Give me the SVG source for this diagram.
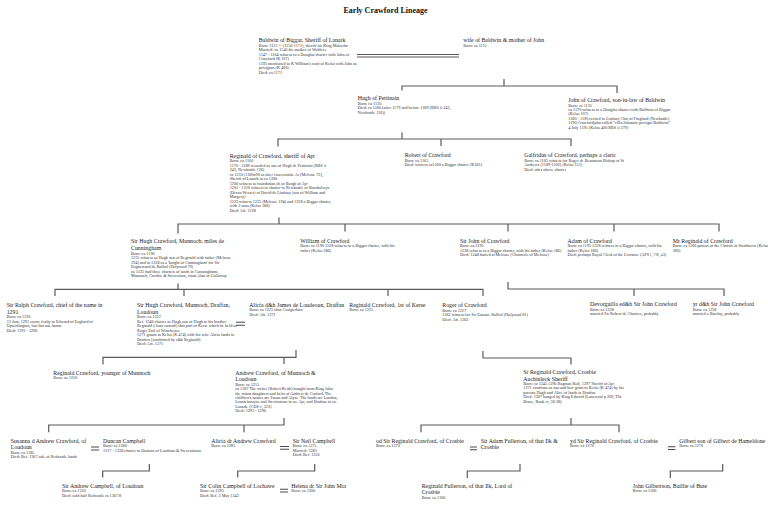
<svg xmlns="http://www.w3.org/2000/svg" width="768" height="516" viewBox="0 0 768 516">
<style>
text{font-family:"Liberation Serif","Times New Roman",serif}
.h{font-size:8px;font-weight:bold;fill:#111;text-anchor:middle}
.t{font-size:5.85px;fill:#1a1a1a}
.d{font-size:4.2px;fill:#333}
.c path{stroke:#5a5a5a;stroke-width:1.2;fill:none}
.eq path{stroke:#4a4a4a;stroke-width:1.1;fill:none}
</style>
<rect width="768" height="516" fill="#fff"/>
<text class="h" x="385.5" y="13">Early Crawford Lineage</text>

<g id="connectors" class="c">
<path d="M357 54.5H459M357 57H459"/>
<path d="M504 79V86M402 90.5V86H617V93"/>
<path d="M402 132.5V139M278 146.5V139H571V146M441 139V146"/>
<path d="M279 217.5V224M178 233.5V224H719V231.5M345 224V231.5M508 224V231.5M614 224V231.5"/>
<path d="M178 283.5V289.3M55 296V289.3H483V296M184 289.3V296M388 289.3V296"/>
<path d="M508 282V289H724V296M634 289V296"/>
<path d="M296 350V357.3H103V364.5M284 357.3V364"/>
<path d="M483 351V358H571V364.5"/>
<path d="M284 418V425H48.7V432.3M244 425V432.3"/>
<path d="M571 418V425M421 432.3V425H619V432.3"/>
<path d="M149.3 464V471H102.7V477.5"/>
<path d="M314.7 464V471H237.7V477.5"/>
<path d="M520 464V471H467.3V478"/>
<path d="M722.7 464V471H670.3V478"/>
</g>
<g id="marriages" class="eq">
<path d="M236 322.3H245M236 325.3H245"/>
<path d="M91 447H99M91 450H99"/>
<path d="M280 446.5H289M280 449.3H289"/>
<path d="M280 489.3H288M280 492H288"/>
<path d="M470 447H477M470 449.8H477"/>
<path d="M668 446.7H675.5M668 449.5H675.5"/>
</g>

<g id="baldwin">
<text class="t" x="258.7" y="42">Baldwin of Biggar, Sheriff of Lanark</text>
<text class="d" y="46.5"><tspan x="258.7">Born: 1125 © (1150-1171), sheriff for King Malcolm</tspan><tspan x="258.7" dy="4.5">Married: ca 1140 the mother of Waldeve</tspan><tspan x="258.7" dy="4.5">1147 - 1164 witness to a Douglas charter with John of</tspan><tspan x="258.7" dy="4.5">Crawford (K 107)</tspan><tspan x="258.7" dy="4.5">1193 mentioned in K William's conf of Kelso with John as</tspan><tspan x="258.7" dy="4.5">privignus (K 400)</tspan><tspan x="258.7" dy="4.5">Died: ca 1171</tspan></text>
</g>
<g id="wife-baldwin">
<text class="t" x="463.3" y="42">wife of Baldwin &amp; mother of John</text>
<text class="d" x="463.3" y="46.5">Born: ca 1115</text>
</g>
<g id="hugh-pettinain">
<text class="t" x="357.7" y="100">Hugh of Pettinain</text>
<text class="d" y="104.8"><tspan x="357.7">Born: ca 1130</tspan><tspan x="357.7" dy="4.4">Died: ca 1180 (after 1179 and before 1189 (RRS ii 243,</tspan><tspan x="357.7" dy="4.4">Newbottle 126))</tspan></text>
</g>
<g id="john-crawford">
<text class="t" x="568.3" y="102">John of Crawford, son-in-law of Baldwin</text>
<text class="d" y="106.5"><tspan x="568.3">Born: ca 1135</tspan><tspan x="568.3" dy="4.4">ca 1170 witness to a Douglas charter with Baldwin of Biggar</tspan><tspan x="568.3" dy="4.4">(Kelso 107)</tspan><tspan x="568.3" dy="4.4">1180 - 1190 recited in Lindsay Chtr of Fingland (Newbattle)</tspan><tspan x="568.3" dy="4.4">1190 Crawfordjohn called "villa Johannis privigni Baldwini"</tspan><tspan x="568.3" dy="4.4">4 July 1195 (Kelso 400 RRS ii 379)</tspan></text>
</g>
<g id="reginald-ayr">
<text class="t" x="229.7" y="157.5">Reginald of Crawford, sheriff of Ayr</text>
<text class="d" y="162.3"><tspan x="229.7">Born: ca 1160</tspan><tspan x="229.7" dy="4.5">1170 - 1189 recorded as son of Hugh de Pettinain (RRS ii</tspan><tspan x="229.7" dy="4.5">243, Newbottle 126)</tspan><tspan x="229.7" dy="4.5">ca 1210 (1180x90 as later viscecomite Ar (Melrose 72),</tspan><tspan x="229.7" dy="4.5">Sheriff of Lanark in ca 1200</tspan><tspan x="229.7" dy="4.5">1200 witness to foundation ch of Burgh of Ayr</tspan><tspan x="229.7" dy="4.5">1201 - 1210 witness to charter to Newbottle of Brochalwyn</tspan><tspan x="229.7" dy="4.5">(Dixon Wester) of David de Lindsay (son of William and</tspan><tspan x="229.7" dy="4.5">Margery)</tspan><tspan x="229.7" dy="4.5">1223 witness 1225 (Melrose 194) and 1228 a Biggar charter,</tspan><tspan x="229.7" dy="4.5">with 3 sons (Kelso 186)</tspan><tspan x="229.7" dy="4.5">Died: Aft. 1228</tspan></text>
</g>
<g id="robert">
<text class="t" x="404.7" y="157">Robert of Crawford</text>
<text class="d" y="161.8"><tspan x="404.7">Born: ca 1165</tspan><tspan x="404.7" dy="4.5">Died: witness ca1200 a Biggar charter (K181)</tspan></text>
</g>
<g id="galfridus">
<text class="t" x="524.3" y="157">Galfridus of Crawford, perhaps a cleric</text>
<text class="d" y="161.8"><tspan x="524.3">Born: ca 1165 witness for Roger de Beaumont Bishop of St</tspan><tspan x="524.3" dy="4.5">Andrews (1189-1202) (Kelso 151)</tspan><tspan x="524.3" dy="4.5">Died: after above charter</tspan></text>
</g>

<g id="sir-hugh-1">
<text class="t" y="243"><tspan x="131">Sir Hugh Crawford, Munnoch, miles de</tspan><tspan x="131" dy="7">Cunningham</tspan></text>
<text class="d" y="254.5"><tspan x="131">Born: ca 1190</tspan><tspan x="131" dy="4.5">1225 witness as Hugh son of Reginald with father (Melrose</tspan><tspan x="131" dy="4.5">194) and in 1228 as a 'knight of Cunningham' for Sir</tspan><tspan x="131" dy="4.5">Enguerrand de Balliol (Holyrood 79)</tspan><tspan x="131" dy="4.5">ca 1225 had three charters of lands in Cunninghame,</tspan><tspan x="131" dy="4.5">Munnoch, Crosbie &amp; Stevenston, from Alan of Galloway</tspan></text>
</g>
<g id="william">
<text class="t" x="300.3" y="242.5">William of Crawford</text>
<text class="d" y="247.3"><tspan x="300.3">Born: ca 1190 1228 witness to a Biggar charter, with his</tspan><tspan x="300.3" dy="4.5">father (Kelso 186)</tspan></text>
</g>
<g id="sir-john">
<text class="t" x="460" y="242.5">Sir John of Crawford</text>
<text class="d" y="247.3"><tspan x="460">Born: ca 1195</tspan><tspan x="460" dy="4.5">1228 witness to a Biggar charter, with his father (Kelso 186)</tspan><tspan x="460" dy="4.5">Died: 1248 buried at Melrose (Chronicle of Melrose)</tspan></text>
</g>
<g id="adam">
<text class="t" x="567.5" y="242.5">Adam of Crawford</text>
<text class="d" y="247.3"><tspan x="567.5">Born: ca 1195 1228 witness to a Biggar charter, with his</tspan><tspan x="567.5" dy="4.5">father (Kelso 186)</tspan><tspan x="567.5" dy="4.5">Died: perhaps Royal Clerk of the Livrance (APS i, 7/8, a3)</tspan></text>
</g>
<g id="mr-reginald">
<text class="t" x="672.7" y="242.5">Mr Reginald of Crawford</text>
<text class="d" y="247.3"><tspan x="672.7">Born: ca 1200 parson of the Church of Strathaven (Kelso</tspan><tspan x="672.7" dy="4.5">280)</tspan></text>
</g>

<g id="sir-ralph">
<text class="t" y="306.5"><tspan x="6.7">Sir Ralph Crawford, chief of the name in</tspan><tspan x="6.7" dy="7">1291</tspan></text>
<text class="d" y="318"><tspan x="6.7">Born: ca 1220</tspan><tspan x="6.7" dy="4.5">13 June 1291 swore fealty to Edward of England at</tspan><tspan x="6.7" dy="4.5">Upsettlington, last but one baron</tspan><tspan x="6.7" dy="4.5">Died: 1291 - 1296</tspan></text>
</g>
<g id="sir-hugh-2">
<text class="t" y="306.5"><tspan x="137">Sir Hugh Crawford, Munnoch, Draffan,</tspan><tspan x="137" dy="7">Loudoun</tspan></text>
<text class="d" y="318"><tspan x="137">Born: ca 1222</tspan><tspan x="137" dy="4.5">Ref. 1246 charter as Hugh son of Hugh to his brother</tspan><tspan x="137" dy="4.5">Reginald (Auto custodi) that part of Kerse which he held or</tspan><tspan x="137" dy="4.5">Roger Earl of Winchester</tspan><tspan x="137" dy="4.5">1271 grants to Kelso (K 474) with his wife Alicia lands in</tspan><tspan x="137" dy="4.5">Draffen (confirmed by s&amp;h Reginald)</tspan><tspan x="137" dy="4.5">Died: Aft. 1271</tspan></text>
</g>
<g id="alicia-loudeoun">
<text class="t" x="249.3" y="306.5">Alicia d&amp;h James de Loudeoun, Draffan</text>
<text class="d" y="311.3"><tspan x="249.3">Born: ca 1225 alias Craigiedfan</tspan><tspan x="249.3" dy="4.5">Died: Aft. 1271</tspan></text>
</g>
<g id="reginald-kerse">
<text class="t" x="349.3" y="306.5">Reginald Crawford, 1st of Kerse</text>
<text class="d" x="349.3" y="311.3">Born: ca 1225</text>
</g>
<g id="roger">
<text class="t" x="442.3" y="306.8">Roger of Crawford</text>
<text class="d" y="311.6"><tspan x="442.3">Born: ca 1227</tspan><tspan x="442.3" dy="4.5">1262 witness for Sir Eustace Balliol (Holyrood 81)</tspan><tspan x="442.3" dy="4.5">Died: Aft. 1262</tspan></text>
</g>
<g id="devorguilla">
<text class="t" x="590" y="305.8">Devorguilla ed&amp;h Sir John Crawford</text>
<text class="d" y="310.6"><tspan x="590">Born: ca 1228</tspan><tspan x="590" dy="4.5">married Sir Robert de Chartres, probably</tspan></text>
</g>
<g id="yr-dh">
<text class="t" x="692.7" y="305.8">yr d&amp;h Sir John Crawford</text>
<text class="d" y="310.6"><tspan x="692.7">Born: ca 1228</tspan><tspan x="692.7" dy="4.5">married a Barclay, probably</tspan></text>
</g>

<g id="reginald-younger">
<text class="t" x="53.3" y="374.5">Reginald Crawford, younger of Munnoch</text>
<text class="d" x="53.3" y="379.3">Born: ca 1250</text>
</g>
<g id="andrew">
<text class="t" y="374.5"><tspan x="235.3">Andrew Crawford, of Munnoch &amp;</tspan><tspan x="235.3" dy="6.8">Loudoun</tspan></text>
<text class="d" y="385.8"><tspan x="235.3">Born: ca 1255</tspan><tspan x="235.3" dy="4.4">ca 1307 The writer (Robert Keith) bought from King John</tspan><tspan x="235.3" dy="4.4">the infant daughters and heirs of Andrew de Crafurd. The</tspan><tspan x="235.3" dy="4.4">children's names are Susan and Alyse. The lands are Loudon,</tspan><tspan x="235.3" dy="4.4">Lousteinruyne and Stevinstoun in co. Ayr, and Draffan in co.</tspan><tspan x="235.3" dy="4.4">Lanark. (CDS v, 323)</tspan><tspan x="235.3" dy="4.4">Died: 1292 - 1296</tspan></text>
</g>
<g id="sr-reginald-crosbie">
<text class="t" y="374"><tspan x="523.3">Sr Reginald Crawford, Crosbie</tspan><tspan x="523.3" dy="6.5">Auchinleck Sheriff</tspan></text>
<text class="d" y="385"><tspan x="523.3">Born: ca 1245  1296 Ragman Roll, 1297 Sheriff of Ayr</tspan><tspan x="523.3" dy="4.4">1271 confirms as son and heir grant to Kelso (K 474) by his</tspan><tspan x="523.3" dy="4.4">parents Hugh and Alice of lands in Draffan</tspan><tspan x="523.3" dy="4.4">Died: 1307 hanged by King Edward (Lanercost p 209, The</tspan><tspan x="523.3" dy="4.4">Bruce, Book iv, 36-38)</tspan></text>
</g>

<g id="susanna">
<text class="t" y="442.5"><tspan x="10.7">Susanna d Andrew Crawford, of</tspan><tspan x="10.7" dy="6.6">Loudoun</tspan></text>
<text class="d" y="453.8"><tspan x="10.7">Born: ca 1285</tspan><tspan x="10.7" dy="4.4">Died: Bef. 1367 sale of Redcastle lands</tspan></text>
</g>
<g id="duncan">
<text class="t" x="103" y="442.5">Duncan Campbell</text>
<text class="d" y="447.3"><tspan x="103">Born: ca 1280</tspan><tspan x="103" dy="4.4">1317 - 1338 charter to Duncan of Loudoun &amp; Stevenstoun</tspan></text>
</g>
<g id="alicia-dr">
<text class="t" x="211.3" y="442.5">Alicia dr Andrew Crawford</text>
<text class="d" x="211.3" y="447.3">Born: ca 1285</text>
</g>
<g id="sir-neil">
<text class="t" x="292.7" y="442.5">Sir Neil Campbell</text>
<text class="d" y="447.3"><tspan x="292.7">Born: ca 1275</tspan><tspan x="292.7" dy="4.4">Married: 1285</tspan><tspan x="292.7" dy="4.4">Died: Bef. 1316</tspan></text>
</g>
<g id="od-sir-reginald">
<text class="t" x="376" y="442.5">od Sir Reginald Crawford, of Crosbie</text>
<text class="d" x="376" y="447.3">Born: ca 1270</text>
</g>
<g id="sir-adam">
<text class="t" y="442.5"><tspan x="480.7">Sir Adam Fullerton, of that Ilk &amp;</tspan><tspan x="480.7" dy="6.6">Crosbie</tspan></text>
</g>
<g id="yd-sir-reginald">
<text class="t" x="570" y="442.5">yd Sir Reginald Crawford, of Crosbie</text>
<text class="d" x="570" y="447.3">Born: ca 1270</text>
</g>
<g id="gilbert">
<text class="t" x="679.3" y="442.5">Gilbert son of Gilbert de Hameldone</text>
<text class="d" x="679.3" y="447.3">Born: ca 1270</text>
</g>

<g id="sir-andrew-campbell">
<text class="t" x="62" y="487.5">Sir Andrew Campbell, of Loudoun</text>
<text class="d" y="492.3"><tspan x="62">Born: ca 1320</tspan><tspan x="62" dy="4.4">Died: sold half Redcastle in 1367/8</tspan></text>
</g>
<g id="sir-colin">
<text class="t" x="200" y="487.5">Sir Colin Campbell of Lochawe</text>
<text class="d" y="492.3"><tspan x="200">Born: ca 1295</tspan><tspan x="200" dy="4.4">Died: Bef. 2 May 1343</tspan></text>
</g>
<g id="helena">
<text class="t" x="291.3" y="487.5">Helena dr Sir John Mor</text>
<text class="d" x="291.3" y="492.3">Born: ca 1300</text>
</g>
<g id="reginald-fullerton">
<text class="t" y="487.5"><tspan x="421.7">Reginald Fullerton, of that Ilk, Lord of</tspan><tspan x="421.7" dy="6.6">Crosbie</tspan></text>
<text class="d" x="421.7" y="498.8">Born: ca 1300</text>
</g>
<g id="john-gilbertson">
<text class="t" x="632.7" y="487.5">John Gilbertson, Baillie of Bute</text>
<text class="d" x="632.7" y="492.3">Born: ca 1300</text>
</g>
</svg>
